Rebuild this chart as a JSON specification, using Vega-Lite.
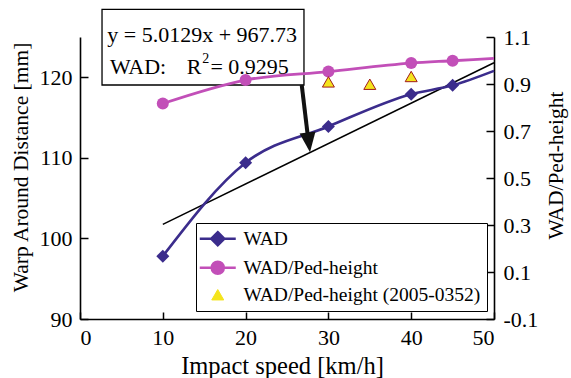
{
  "$schema": "https://vega.github.io/schema/vega-lite/v6.json",
  "width": 414,
  "height": 282,
  "autosize": {"type": "none"},
  "padding": {"left": 80, "top": 37, "right": 77, "bottom": 59},
  "background": "white",
  "config": {
    "view": {"stroke": null},
    "font": "Liberation Serif",
    "axis": {
      "grid": false,
      "domainColor": "#000000",
      "domainWidth": 1.6,
      "tickColor": "#000000",
      "tickWidth": 1.5,
      "labelFont": "Liberation Serif",
      "labelFontSize": 22,
      "labelColor": "#000000",
      "titleFont": "Liberation Serif",
      "titleFontSize": 21.5,
      "titleFontWeight": "normal",
      "titleColor": "#000000"
    }
  },
  "datasets": {
    "measured": [
      {"speed": 10, "value": 97.8, "series": "WAD"},
      {"speed": 20, "value": 109.4, "series": "WAD"},
      {"speed": 30, "value": 113.9, "series": "WAD"},
      {"speed": 40, "value": 117.9, "series": "WAD"},
      {"speed": 45, "value": 119.0, "series": "WAD"},
      {"speed": 50, "value": 120.8, "series": "WAD"},
      {"speed": 10, "value": 0.817, "series": "WAD/Ped-height"},
      {"speed": 20, "value": 0.917, "series": "WAD/Ped-height"},
      {"speed": 30, "value": 0.953, "series": "WAD/Ped-height"},
      {"speed": 40, "value": 0.989, "series": "WAD/Ped-height"},
      {"speed": 45, "value": 0.999, "series": "WAD/Ped-height"},
      {"speed": 50, "value": 1.009, "series": "WAD/Ped-height"},
      {"speed": 30, "value": 0.909, "series": "WAD/Ped-height (2005-0352)"},
      {"speed": 35, "value": 0.899, "series": "WAD/Ped-height (2005-0352)"},
      {"speed": 40, "value": 0.932, "series": "WAD/Ped-height (2005-0352)"}
    ],
    "fit": [
      {"speed": 10, "fit": 101.75},
      {"speed": 50, "fit": 121.8}
    ],
    "note": [{"label": "annotation"}]
  },
  "layer": [
    {
      "layer": [
        {
          "data": {"name": "note"},
          "mark": {"type": "rect", "fill": "transparent", "stroke": "#000000", "strokeWidth": 1.3},
          "encoding": {
            "x": {"datum": 2.66, "type": "quantitative", "scale": {"domain": [0, 50], "nice": false}},
            "x2": {"datum": 27.05},
            "y": {"datum": 119.04, "type": "quantitative"},
            "y2": {"datum": 128.44}
          }
        },
        {
          "data": {"name": "note"},
          "mark": {"type": "text", "text": "y = 5.0129x + 967.73", "fontSize": 22, "font": "Liberation Serif", "align": "center", "baseline": "middle", "color": "#000000"},
          "encoding": {
            "x": {"datum": 14.75, "type": "quantitative"},
            "y": {"datum": 125.25, "type": "quantitative"}
          }
        },
        {
          "data": {"name": "note"},
          "mark": {"type": "text", "text": "WAD:", "fontSize": 22, "font": "Liberation Serif", "align": "left", "baseline": "middle", "color": "#000000"},
          "encoding": {
            "x": {"datum": 3.62, "type": "quantitative"},
            "y": {"datum": 121.28, "type": "quantitative"}
          }
        },
        {
          "data": {"name": "note"},
          "mark": {"type": "text", "text": "R", "fontSize": 22, "font": "Liberation Serif", "align": "left", "baseline": "middle", "color": "#000000"},
          "encoding": {
            "x": {"datum": 12.9, "type": "quantitative"},
            "y": {"datum": 121.28, "type": "quantitative"}
          }
        },
        {
          "data": {"name": "note"},
          "mark": {"type": "text", "text": "2", "fontSize": 14, "font": "Liberation Serif", "align": "left", "baseline": "middle", "color": "#000000"},
          "encoding": {
            "x": {"datum": 14.76, "type": "quantitative"},
            "y": {"datum": 122.3, "type": "quantitative"}
          }
        },
        {
          "data": {"name": "note"},
          "mark": {"type": "text", "text": "= 0.9295", "fontSize": 22, "font": "Liberation Serif", "align": "left", "baseline": "middle", "color": "#000000"},
          "encoding": {
            "x": {"datum": 15.75, "type": "quantitative"},
            "y": {"datum": 121.28, "type": "quantitative"}
          }
        },
        {
          "data": {"name": "fit"},
          "mark": {"type": "line", "color": "#000000", "strokeWidth": 1.5},
          "encoding": {
            "x": {"field": "speed", "type": "quantitative"},
            "y": {"field": "fit", "type": "quantitative"}
          }
        },
        {
          "data": {"name": "measured"},
          "transform": [{"filter": "datum.series === 'WAD'"}],
          "mark": {"type": "line", "interpolate": "monotone", "strokeWidth": 2.6},
          "encoding": {
            "x": {
              "field": "speed",
              "type": "quantitative",
              "title": "Impact speed [km/h]",
              "scale": {"domain": [0, 50], "nice": false},
              "axis": {
                "values": [0, 10, 20, 30, 40, 50],
                "tickSize": -7,
                "labelPadding": 15.5,
                "titleFontSize": 24.5,
                "titleBaseline": "alphabetic",
                "titleX": 202,
                "titleY": 54
              }
            },
            "y": {
              "field": "value",
              "type": "quantitative",
              "title": "Warp Around Distance [mm]",
              "scale": {"domain": [90, 125], "nice": false, "zero": false},
              "axis": {
                "orient": "left",
                "values": [90, 100, 110, 120],
                "tickSize": -8,
                "labelPadding": 16,
                "titleAngle": -90,
                "titleBaseline": "middle",
                "titleAlign": "center",
                "titleX": -59,
                "titleY": 130
              }
            },
            "color": {
              "field": "series",
              "type": "nominal",
              "scale": {
                "domain": ["WAD", "WAD/Ped-height", "WAD/Ped-height (2005-0352)"],
                "range": ["#3b2c8c", "#c24fb8", "#f4e41c"]
              },
              "legend": {
                "orient": "none",
                "legendX": 116,
                "legendY": 186,
                "title": null,
                "symbolSize": 784,
                "labelFont": "Liberation Serif",
                "labelFontSize": 19.5,
                "labelColor": "#000000",
                "labelOffset": 22,
                "labelLimit": 400,
                "padding": 6,
                "rowPadding": 5,
                "strokeColor": "#000000",
                "fillColor": "#ffffff",
                "encode": {
                  "symbols": {
                    "update": {
                      "shape": {"signal": "datum.value === 'WAD' ? 'M-0.857,0L1.715,0M0.429,-0.464L0.893,0L0.429,0.464L-0.035,0Z' : datum.value === 'WAD/Ped-height' ? 'M-0.857,0L1.715,0M0.858,0A0.429,0.429,0,1,1,0,0A0.429,0.429,0,1,1,0.858,0Z' : 'M0.429,-0.371L0.858,0.371L0,0.371Z'"},
                      "fill": {"signal": "datum.value === 'WAD' ? '#3b2c8c' : datum.value === 'WAD/Ped-height' ? '#c24fb8' : '#f4e41c'"},
                      "stroke": {"signal": "datum.value === 'WAD' ? '#3b2c8c' : datum.value === 'WAD/Ped-height' ? '#c24fb8' : '#a01c1c'"},
                      "strokeWidth": {"signal": "datum.value === 'WAD/Ped-height (2005-0352)' ? 1 : 2.6"},
                      "opacity": {"value": 1}
                    }
                  }
                }
              }
            }
          }
        },
        {
          "data": {"name": "measured"},
          "transform": [{"filter": "datum.series === 'WAD' && datum.speed < 50"}],
          "mark": {"type": "point", "shape": "diamond", "filled": true, "size": 169, "color": "#3b2c8c", "opacity": 1},
          "encoding": {
            "x": {"field": "speed", "type": "quantitative"},
            "y": {"field": "value", "type": "quantitative"}
          }
        },
        {
          "data": {"name": "note"},
          "mark": {"type": "rule", "color": "#111111", "strokeWidth": 4},
          "encoding": {
            "x": {"datum": 26.78, "type": "quantitative"},
            "y": {"datum": 119.04, "type": "quantitative"},
            "x2": {"datum": 27.5},
            "y2": {"datum": 112.84}
          }
        },
        {
          "data": {"name": "note"},
          "mark": {"type": "point", "shape": "M0,1L-0.8,-1L0.8,-1Z", "filled": true, "size": 400, "angle": -7, "color": "#111111", "opacity": 1},
          "encoding": {
            "x": {"datum": 27.63, "type": "quantitative"},
            "y": {"datum": 111.92, "type": "quantitative"}
          }
        }
      ]
    },
    {
      "data": {"name": "measured"},
      "layer": [
        {
          "transform": [{"filter": "datum.series === 'WAD/Ped-height'"}],
          "mark": {"type": "line", "interpolate": "monotone", "strokeWidth": 2.8},
          "encoding": {
            "x": {"field": "speed", "type": "quantitative"},
            "y": {
              "field": "value",
              "type": "quantitative",
              "title": "WAD/Ped-height",
              "scale": {"domain": [-0.1, 1.1], "nice": false, "zero": false},
              "axis": {
                "orient": "right",
                "values": [-0.1, 0.1, 0.3, 0.5, 0.7, 0.9, 1.1],
                "labelExpr": "datum.value < 0 ? '-0.1' : format(datum.value, '.1f')",
                "tickSize": -8,
                "labelPadding": 17,
                "titleAngle": -90,
                "titleBaseline": "middle",
                "titleAlign": "center",
                "titleX": 62,
                "titleY": 128
              }
            },
            "color": {"field": "series", "type": "nominal"}
          }
        },
        {
          "transform": [{"filter": "datum.series === 'WAD/Ped-height' && datum.speed < 50"}],
          "mark": {"type": "point", "shape": "circle", "filled": true, "size": 144, "color": "#c24fb8", "opacity": 1},
          "encoding": {
            "x": {"field": "speed", "type": "quantitative"},
            "y": {"field": "value", "type": "quantitative"}
          }
        },
        {
          "transform": [{"filter": "datum.series === 'WAD/Ped-height (2005-0352)'"}],
          "mark": {"type": "point", "shape": "triangle-up", "filled": true, "size": 144, "fill": "#f4e41c", "stroke": "#a01c1c", "strokeWidth": 1, "opacity": 1},
          "encoding": {
            "x": {"field": "speed", "type": "quantitative"},
            "y": {"field": "value", "type": "quantitative"}
          }
        }
      ]
    }
  ],
  "resolve": {"scale": {"y": "independent"}}
}
